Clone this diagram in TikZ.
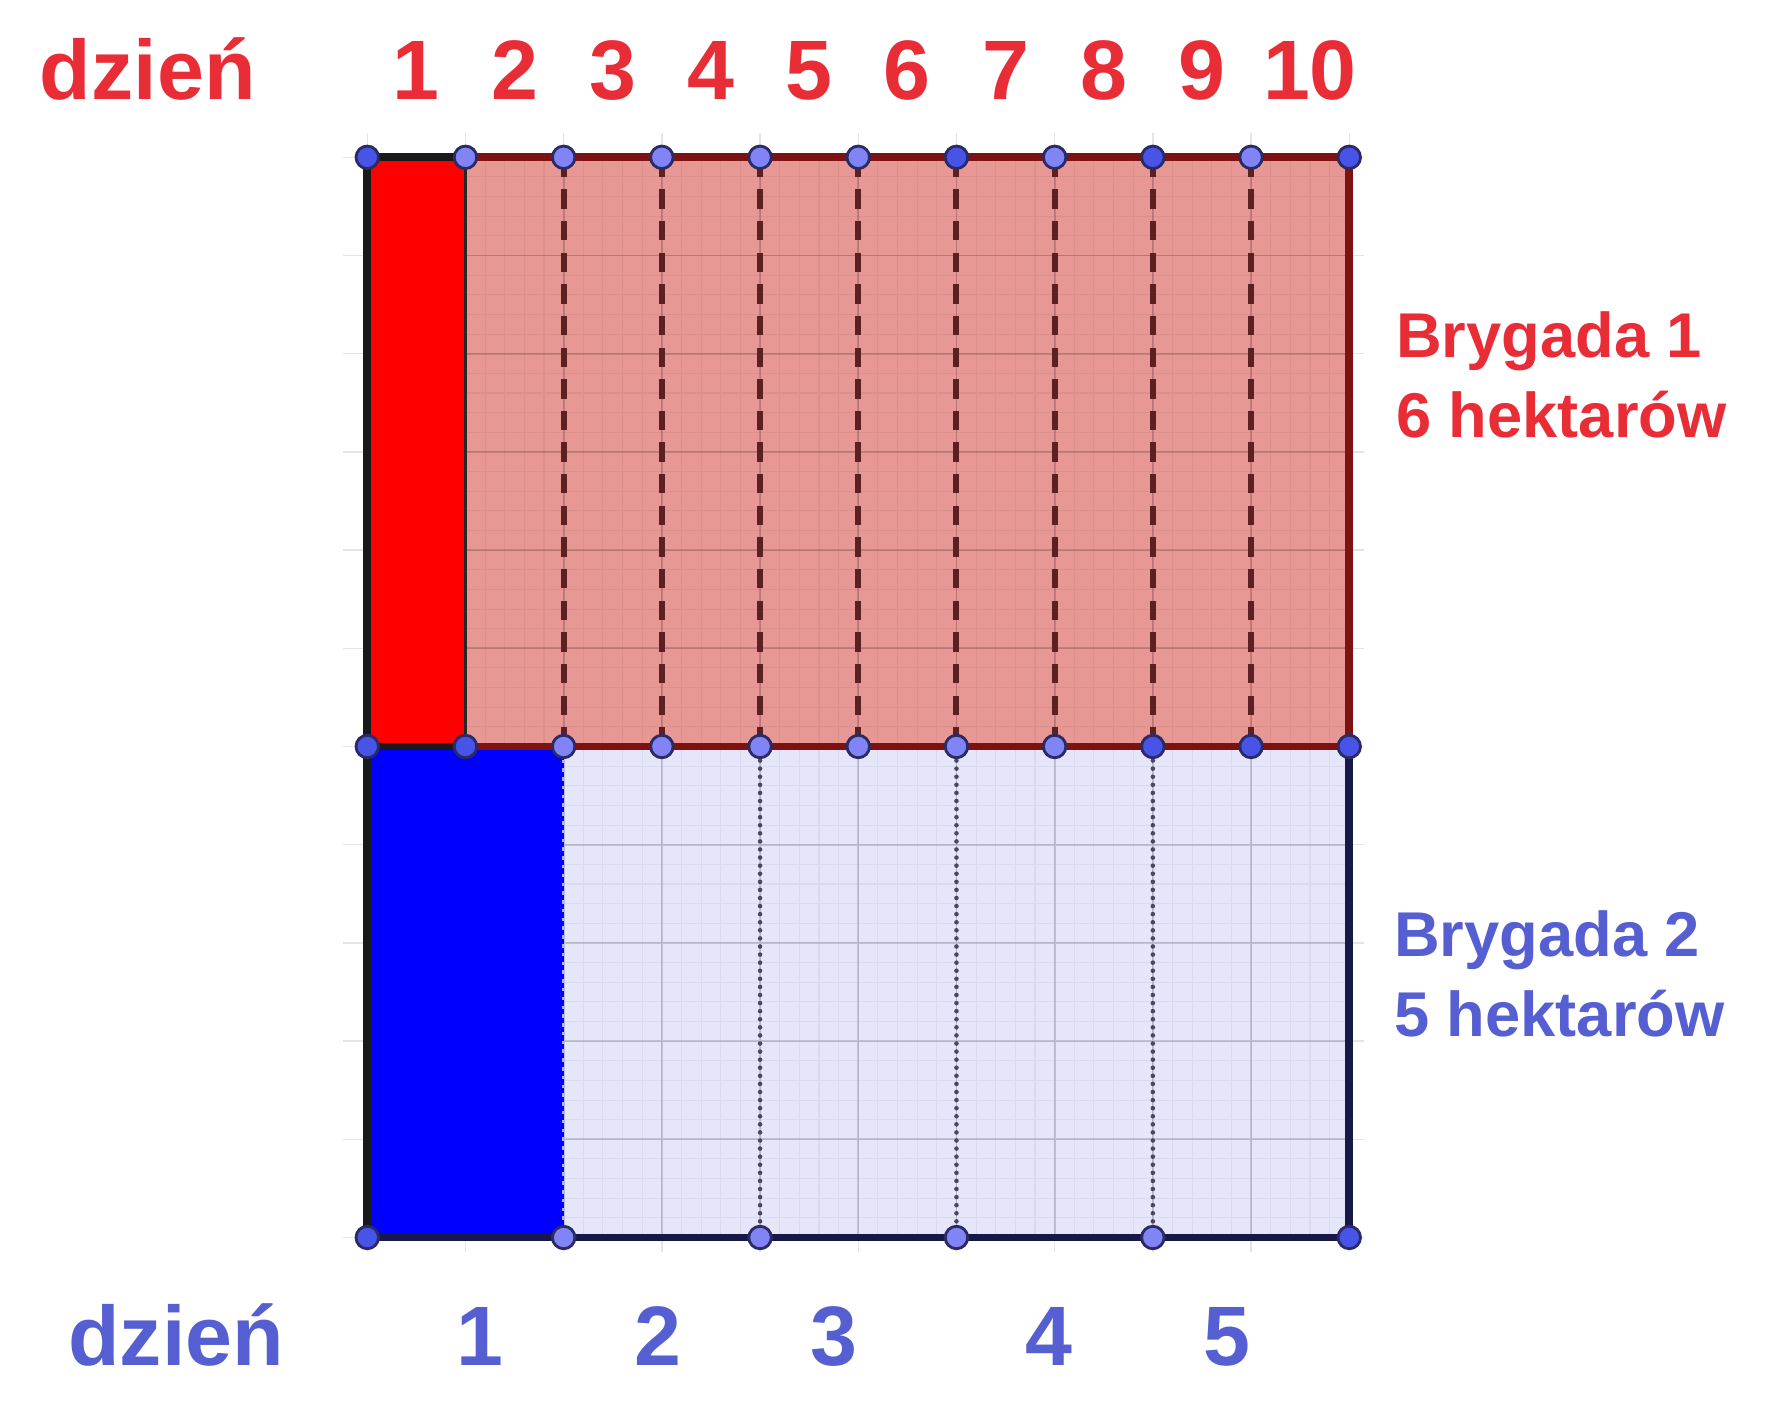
\documentclass[tikz,border=0pt]{standalone}
\usepackage{fontspec}
\setmainfont{Liberation Sans}
\usepackage{xcolor}
\usepackage{tikz}
\usetikzlibrary{positioning}

\definecolor{topfill}{RGB}{231,152,148}
\definecolor{botfill}{RGB}{230,230,250}
\definecolor{topedge}{RGB}{125,18,18}
\definecolor{botedge}{RGB}{24,24,72}
\definecolor{dashcol}{RGB}{92,32,32}
\definecolor{dotcol}{RGB}{72,72,96}
\definecolor{ptlight}{RGB}{128,132,245}
\definecolor{ptdark}{RGB}{72,84,232}
\definecolor{ptedge}{RGB}{42,42,100}
\definecolor{labred}{RGB}{232,45,55}
\definecolor{labblue}{RGB}{85,95,210}

\begin{document}
\begin{tikzpicture}[x=0.982cm, y=0.982cm,
    daytop/.style={text=labred, inner sep=0pt, font=\bfseries\fontsize{24}{28}\selectfont, anchor=base},
    daybot/.style={text=labblue, inner sep=0pt, font=\bfseries\fontsize{24}{28}\selectfont, anchor=base},
    teamlabel/.style={inner sep=0pt, font=\bfseries\fontsize{18}{22.6}\selectfont, align=left, anchor=base west},
    pt/.style={circle, draw=ptedge, line width=0.8pt, inner sep=0pt, minimum size=6.4pt},
    dashline/.style={dashcol, line width=1.7pt, dash pattern=on 5.5pt off 3.5pt},
    dotline/.style={dotcol, line width=1.3pt, line cap=round, dash pattern=on 0pt off 2.3pt}]
  \useasboundingbox (-3.740,-1.655) rectangle (14.305,12.602);

  % grid and fields
  \draw[black!10, line width=0.4pt, step=1] (-0.25,-0.15) grid (10.15,11.25);
  \fill[topfill] (0,5) rectangle (10,11);
  \fill[botfill] (0,0) rectangle (10,5);
  \draw[black, opacity=0.05, line width=0.3pt, step=0.2] (0,0) grid (10,11);
  \draw[black, opacity=0.16, line width=0.5pt, step=1] (0,0) grid (10,11);
  \fill[red] (0,5) rectangle (1,11);
  \fill[blue] (0,0) rectangle (2,5);

  % day strips
  \foreach \i in {2,...,9}
    \draw[dashline] (\i,5) -- (\i,11);
  \foreach \i in {4,6,8}
    \draw[dotline] (\i,0) -- (\i,5);
  \draw[black!85, line width=1pt] (1,5) -- (1,11);
  \draw[white!70!blue, line width=0.8pt, dash pattern=on 1pt off 1.5pt] (2,0) -- (2,5);

  % edges
  \draw[topedge, line width=2.2pt] (0,5) rectangle (10,11);
  \draw[botedge, line width=2.2pt] (0,0) -- (10,0) -- (10,5);
  \draw[black!90, line width=2.2pt] (1,11) -- (0,11) -- (0,0);
  \draw[black!90, line width=2.2pt] (0,5) -- (1,5);

  % points
  \foreach \i/\c in {0/ptdark,1/ptlight,2/ptlight,3/ptlight,4/ptlight,5/ptlight,
                     6/ptdark,7/ptlight,8/ptdark,9/ptlight,10/ptdark}
    \node[pt, fill=\c] (top\i) at (\i,11) {};
  \foreach \i/\c in {0/ptdark,1/ptdark,2/ptlight,3/ptlight,4/ptlight,5/ptlight,
                     6/ptlight,7/ptlight,8/ptdark,9/ptdark,10/ptdark}
    \node[pt, fill=\c] (mid\i) at (\i,5) {};
  \foreach \i/\c in {0/ptdark,2/ptlight,4/ptlight,6/ptlight,8/ptlight,10/ptdark}
    \node[pt, fill=\c] (bot\i) at (\i,0) {};

  % days of the first team
  \node[daytop, anchor=base west] (dayA) at (-3.34,11.59) {dzień};
  \foreach \i in {1,...,9}
    \node[daytop] (dA\i) at (\i-0.5,11.59) {\i};
  \node[daytop] (dA10) at (9.6,11.59) {10};

  % days of the second team
  \node[daybot, anchor=base west] (dayB) at (-3.05,-1.30) {dzień};
  \foreach \i/\x in {1/1.15,2/2.96,3/4.75,4/6.94,5/8.75}
    \node[daybot] (dB\i) at (\x,-1.30) {\i};

  % teams
  \node[teamlabel, text=labred] (teamA) at (10.47,8.15) {Brygada 1\\6 hektarów};
  \node[teamlabel, text=labblue] (teamB) at (10.45,2.05) {Brygada 2\\5 hektarów};
\end{tikzpicture}
\end{document}
